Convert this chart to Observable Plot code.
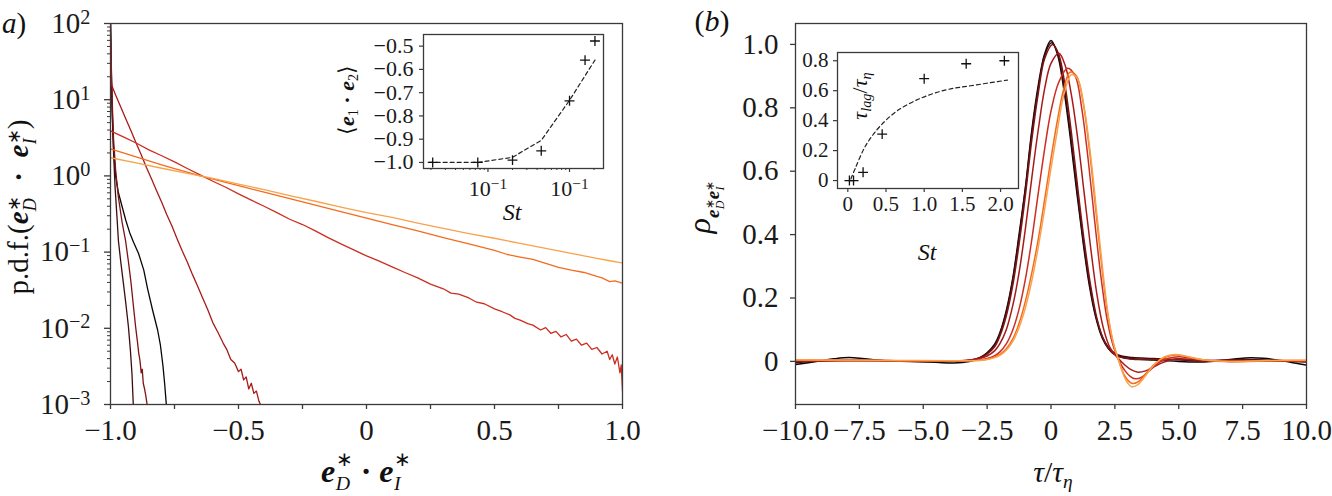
<!DOCTYPE html>
<html><head><meta charset="utf-8">
<script src="https://cdn.jsdelivr.net/npm/d3@7"></script>
<script src="https://cdn.jsdelivr.net/npm/@observablehq/plot@0.6"></script>
<style>
html,body{margin:0;padding:0;background:#fff;}
#wrap{position:relative;width:1332px;height:496px;overflow:hidden;font-family:Liberation Serif,Times New Roman,serif;color:#111;}
#wrap svg{position:absolute;overflow:visible;max-width:none;font-family:Liberation Serif,Times New Roman,serif;}
#wrap svg text{font-family:Liberation Serif,Times New Roman,serif;}
.lbl{position:absolute;white-space:nowrap;line-height:1;}
.ss{display:inline-block;vertical-align:-0.4em;line-height:1.2;font-size:0.62em;text-align:left;margin-left:0.02em;font-weight:normal;}
.ss2{display:inline-block;vertical-align:-0.42em;line-height:0.85;font-size:0.62em;text-align:left;margin-left:0.02em;font-weight:normal;}
.ss>span,.ss2>span{display:block;}
sub{font-size:0.65em;vertical-align:-0.3em;line-height:0;}
</style></head><body><div id="wrap"></div>
<script>
// ---------- DATA ----------
const seriesColors = ["#0b0606", "#3e0c0c", "#7e1414", "#a81a18", "#cc2e20", "#f26c1e", "#f9a24c"];

// Panel (a): p.d.f. of e_D*.e_I*  ([x, pdf] pairs)
const pdfC0 = [[-1,100],[-0.997,20],[-0.993,6],[-0.988,2.2],[-0.98,1.0],[-0.97,0.62],[-0.955,0.4],[-0.94,0.26],[-0.925,0.18],[-0.91,0.135],[-0.89,0.095],[-0.87,0.058],[-0.855,0.033],[-0.835,0.017],[-0.816,0.0095],[-0.805,0.006],[-0.795,0.0032],[-0.788,0.0018],[-0.782,0.001]];
const pdfC1 = [[-1,100],[-0.997,25],[-0.993,7],[-0.988,2.0],[-0.982,0.7],[-0.975,0.3],[-0.969,0.14],[-0.96,0.075],[-0.95,0.04],[-0.94,0.021],[-0.93,0.0105],[-0.922,0.005],[-0.916,0.0025],[-0.911,0.001]];
const pdfC2 = [[-1,100],[-0.997,30],[-0.993,9],[-0.988,3.0],[-0.98,1.2],[-0.97,0.55],[-0.955,0.25],[-0.941,0.14],[-0.93,0.075],[-0.92,0.04],[-0.91,0.019],[-0.902,0.0105],[-0.895,0.0068],[-0.89,0.0048],[-0.885,0.0038],[-0.88,0.0026],[-0.876,0.0029],[-0.872,0.0019],[-0.867,0.0016],[-0.862,0.0013],[-0.857,0.001]];
const pdfC3 = [[-1,60],[-0.997,16],[-0.98,11.5],[-0.96,8.0],[-0.94,5.6],[-0.92,3.9],[-0.9,2.7],[-0.88,1.9],[-0.86,1.3],[-0.84,0.92],[-0.82,0.64],[-0.8,0.45],[-0.78,0.31],[-0.76,0.22],[-0.74,0.15],[-0.72,0.104],[-0.7,0.074],[-0.68,0.051],[-0.66,0.036],[-0.64,0.025],[-0.62,0.0175],[-0.6,0.0118],[-0.58,0.0088],[-0.56,0.0064],[-0.545,0.0052],[-0.53,0.0039],[-0.515,0.0035],[-0.5,0.0027],[-0.49,0.0029],[-0.48,0.0021],[-0.47,0.0023],[-0.46,0.0016],[-0.45,0.0019],[-0.44,0.0014],[-0.43,0.0015],[-0.42,0.0011],[-0.414,0.001]];
const pdfC4 = [[-1,3.9],[-0.95,3.25],[-0.9,2.7],[-0.85,2.2],[-0.8,1.84],[-0.75,1.53],[-0.7,1.25],[-0.65,1.03],[-0.6,0.85],[-0.55,0.71],[-0.5,0.58],[-0.45,0.48],[-0.4,0.4],[-0.35,0.33],[-0.3,0.27],[-0.25,0.23],[-0.2,0.19],[-0.15,0.155],[-0.1,0.128],[-0.05,0.107],[0,0.089],[0.05,0.076],[0.1,0.064],[0.15,0.054],[0.2,0.046],[0.25,0.038],[0.3,0.033],[0.33,0.029],[0.36,0.028],[0.4,0.025],[0.43,0.022],[0.46,0.021],[0.5,0.018],[0.53,0.0165],[0.56,0.015],[0.58,0.0135],[0.6,0.0128],[0.63,0.0115],[0.65,0.011],[0.68,0.0095],[0.7,0.0102],[0.72,0.0086],[0.74,0.0091],[0.76,0.0077],[0.78,0.0083],[0.8,0.0068],[0.82,0.0072],[0.84,0.006],[0.86,0.0064],[0.88,0.0053],[0.9,0.0056],[0.92,0.0046],[0.94,0.005],[0.95,0.0039],[0.96,0.0045],[0.97,0.0034],[0.98,0.0042],[0.99,0.0026],[0.995,0.0033],[1.0,0.0015]];
const pdfC5 = [[-1,2.26],[-0.95,2.0],[-0.9,1.78],[-0.85,1.58],[-0.8,1.4],[-0.75,1.25],[-0.7,1.12],[-0.65,1.0],[-0.6,0.906],[-0.5,0.745],[-0.4,0.612],[-0.3,0.503],[-0.2,0.414],[-0.1,0.34],[0,0.28],[0.1,0.23],[0.2,0.19],[0.3,0.155],[0.4,0.128],[0.5,0.105],[0.55,0.093],[0.6,0.086],[0.65,0.08],[0.7,0.071],[0.75,0.063],[0.8,0.058],[0.85,0.054],[0.9,0.048],[0.92,0.046],[0.95,0.041],[0.97,0.042],[0.99,0.04],[1.0,0.039]];
const pdfC6 = [[-1,1.73],[-0.9,1.48],[-0.8,1.26],[-0.7,1.08],[-0.65,1.0],[-0.6,0.93],[-0.5,0.78],[-0.4,0.66],[-0.3,0.55],[-0.2,0.465],[-0.1,0.39],[0,0.33],[0.1,0.285],[0.2,0.24],[0.3,0.205],[0.4,0.175],[0.5,0.152],[0.6,0.13],[0.7,0.112],[0.8,0.096],[0.9,0.083],[0.95,0.077],[1.0,0.072]];

// Panel (b): correlation rho vs tau/tau_eta  ([tau, rho] pairs)
const rhoC0 = [[-10,-0.010],[-9.5,-0.004],[-9,0.002],[-8.5,0.008],[-7.9,0.012],[-7.3,0.008],[-6.5,0.002],[-5.5,0.0],[-4.5,-0.003],[-3.8,-0.005],[-3.2,0.0],[-2.8,0.01],[-2.5,0.027],[-2.2,0.055],[-2,0.09],[-1.75,0.16],[-1.5,0.26],[-1.25,0.4],[-1,0.55],[-0.75,0.73],[-0.5,0.87],[-0.25,0.97],[0,1.012],[0.25,0.97],[0.5,0.86],[0.75,0.71],[1,0.54],[1.25,0.38],[1.5,0.24],[1.75,0.14],[2,0.075],[2.25,0.04],[2.5,0.022],[2.8,0.013],[3.2,0.008],[4,0.004],[5,0.0],[6,-0.002],[6.8,0.004],[7.6,0.011],[8.3,0.01],[9,0.003],[9.6,-0.006],[10,-0.012]];
const rhoC1 = [[-10,-0.004],[-8,0.004],[-6,0.001],[-4,0.0],[-3.2,0.004],[-2.8,0.012],[-2.5,0.026],[-2.2,0.052],[-2,0.088],[-1.75,0.155],[-1.5,0.255],[-1.25,0.39],[-1,0.545],[-0.75,0.72],[-0.5,0.86],[-0.25,0.965],[0.02,1.005],[0.25,0.975],[0.5,0.875],[0.75,0.725],[1,0.555],[1.25,0.39],[1.5,0.25],[1.75,0.145],[2,0.08],[2.25,0.044],[2.5,0.025],[2.8,0.016],[3.2,0.012],[4,0.009],[5,0.005],[6,0.002],[7.5,0.006],[9,0.002],[10,-0.002]];
const rhoC2 = [[-10,0.0],[-8,0.003],[-6,0.002],[-4,0.001],[-3.2,0.004],[-2.8,0.011],[-2.5,0.023],[-2.2,0.047],[-2,0.08],[-1.75,0.143],[-1.5,0.238],[-1.25,0.37],[-1,0.525],[-0.75,0.7],[-0.5,0.845],[-0.25,0.955],[0.06,1.0],[0.3,0.97],[0.55,0.87],[0.8,0.72],[1.05,0.545],[1.3,0.38],[1.55,0.24],[1.8,0.135],[2.05,0.07],[2.3,0.036],[2.55,0.018],[2.9,0.01],[3.3,0.006],[4,0.006],[5,0.006],[6,0.003],[7.5,0.004],[9,0.001],[10,0.0]];
const rhoC3 = [[-10,0.002],[-8,0.003],[-6,0.002],[-4,0.002],[-3.2,0.004],[-2.8,0.009],[-2.5,0.017],[-2.2,0.034],[-2,0.056],[-1.75,0.1],[-1.5,0.175],[-1.25,0.28],[-1,0.42],[-0.75,0.58],[-0.5,0.73],[-0.25,0.86],[0,0.94],[0.31,0.972],[0.55,0.935],[0.8,0.84],[1.05,0.7],[1.3,0.53],[1.55,0.36],[1.8,0.21],[2.05,0.105],[2.3,0.045],[2.6,0.012],[2.9,-0.012],[3.15,-0.027],[3.4,-0.034],[3.7,-0.03],[4.0,-0.018],[4.4,-0.003],[4.9,0.008],[5.4,0.007],[6,0.002],[7,0.0],[8.5,0.003],[10,0.0]];
const rhoC4 = [[-10,0.003],[-8,0.002],[-6,0.002],[-4,0.002],[-3.2,0.003],[-2.8,0.005],[-2.5,0.009],[-2.2,0.018],[-2,0.03],[-1.75,0.055],[-1.5,0.098],[-1.25,0.165],[-1,0.26],[-0.75,0.385],[-0.5,0.53],[-0.25,0.67],[0,0.79],[0.3,0.88],[0.65,0.925],[0.95,0.9],[1.2,0.8],[1.45,0.64],[1.7,0.45],[1.95,0.27],[2.2,0.13],[2.45,0.045],[2.65,0.005],[2.9,-0.03],[3.1,-0.047],[3.3,-0.055],[3.55,-0.05],[3.85,-0.03],[4.2,-0.005],[4.6,0.01],[5.0,0.015],[5.5,0.01],[6.2,0.003],[7.5,0.0],[9,0.002],[10,0.001]];
const rhoC5 = [[-10,0.004],[-8,0.003],[-6,0.002],[-4,0.002],[-3.2,0.002],[-2.8,0.004],[-2.5,0.007],[-2.2,0.014],[-2,0.022],[-1.75,0.04],[-1.5,0.07],[-1.25,0.12],[-1,0.19],[-0.75,0.28],[-0.5,0.385],[-0.25,0.51],[0,0.64],[0.25,0.76],[0.5,0.86],[0.74,0.912],[1.0,0.9],[1.25,0.82],[1.5,0.67],[1.75,0.48],[2.0,0.29],[2.2,0.16],[2.4,0.07],[2.6,0.015],[2.85,-0.04],[3.05,-0.063],[3.2,-0.07],[3.45,-0.062],[3.75,-0.035],[4.1,-0.005],[4.5,0.014],[4.9,0.02],[5.4,0.013],[6,0.004],[7,0.0],[8.5,0.002],[10,0.003]];
const rhoC6 = [[-10,0.005],[-8,0.004],[-6,0.003],[-4,0.002],[-3.2,0.002],[-2.8,0.003],[-2.5,0.006],[-2.2,0.012],[-2,0.019],[-1.75,0.035],[-1.5,0.062],[-1.25,0.107],[-1,0.17],[-0.75,0.255],[-0.5,0.36],[-0.25,0.48],[0,0.61],[0.25,0.73],[0.5,0.84],[0.8,0.905],[1.05,0.89],[1.3,0.8],[1.55,0.65],[1.8,0.46],[2.05,0.27],[2.25,0.14],[2.45,0.055],[2.62,0.01],[2.85,-0.045],[3.0,-0.068],[3.15,-0.08],[3.4,-0.073],[3.7,-0.045],[4.05,-0.01],[4.45,0.015],[4.85,0.022],[5.3,0.016],[5.9,0.006],[7,0.0],[8.5,0.003],[10,0.004]];

// Insets
const stValues   = [0.021, 0.075, 0.2, 0.45, 1.0, 1.55, 2.05];
const e1e2Values = [-1.0, -1.0, -0.99, -0.95, -0.735, -0.56, -0.478];
const e1e2FitSt  = [0.019, 0.075, 0.2, 0.45, 1.0, 2.05];
const e1e2Fit    = [-1.0, -1.0, -0.978, -0.905, -0.733, -0.56];
const tauLagValues = [0.0, 0.0, 0.055, 0.31, 0.68, 0.78, 0.80];
const tauFitSt   = [0.04, 0.1, 0.21, 0.3, 0.43, 0.65, 0.98, 1.3, 1.61, 2.09];
const tauFit     = [0.011, 0.085, 0.211, 0.285, 0.367, 0.467, 0.555, 0.607, 0.633, 0.671];

// Ticks
const pdfXTicks = [-1, -0.5, 0, 0.5, 1];
const pdfXMinor = [-0.75, -0.25, 0.25, 0.75];
const pdfYTicks = [1e-3, 1e-2, 1e-1, 1, 10, 100];
const pdfYExp   = ["−3", "−2", "−1", "0", "1", "2"];
const rhoXTicks = [-10, -7.5, -5, -2.5, 0, 2.5, 5, 7.5, 10];
const rhoYTicks = [0, 0.2, 0.4, 0.6, 0.8, 1.0];
const insAYTicks = [-1.0, -0.9, -0.8, -0.7, -0.6, -0.5];
const insAXTicks = [0.1, 1];
const insAXLabels = ["10^−1", "10^−1"];
const insBXTicks = [0, 0.5, 1.0, 1.5, 2.0];
const insBYTicks = [0, 0.2, 0.4, 0.6, 0.8];

// ---------- BUILD ----------
const FONT = "Liberation Serif, Times New Roman, serif";
const AX = "#3a3a3a", TXT = "#1a1a1a";
const fmt = d => d === 0 ? "0" : (d < 0 ? "\u2212" : "") + Math.abs(d).toFixed(1);
const minorLog = (lo, hi) => { const out = []; for (let e = lo; e < hi; e++) for (let m = 2; m <= 9; m++) out.push(m * Math.pow(10, e)); return out; };
const plusSym = {draw(ctx, size) { const r = Math.sqrt(size) / 2; ctx.moveTo(-r, 0); ctx.lineTo(r, 0); ctx.moveTo(0, -r); ctx.lineTo(0, r); }};
const wrap = document.getElementById("wrap");

function place(svg, left, top) { svg.style.left = left + "px"; svg.style.top = top + "px"; supify(svg); wrap.appendChild(svg); }
function supify(svg) {
  svg.querySelectorAll("text").forEach(t => {
    const m = t.textContent.match(/^10\^(.+)$/);
    if (!m) return;
    t.textContent = "";
    const ns = "http://www.w3.org/2000/svg";
    const a = document.createElementNS(ns, "tspan"); a.textContent = "10"; t.appendChild(a);
    const b = document.createElementNS(ns, "tspan"); b.textContent = m[1];
    b.setAttribute("dy", "-0.45em"); b.setAttribute("font-size", "70%"); t.appendChild(b);
  });
}

const pdfSeries = [pdfC0, pdfC1, pdfC2, pdfC3, pdfC4, pdfC5, pdfC6];
const rhoSeries = [rhoC0, rhoC1, rhoC2, rhoC3, rhoC4, rhoC5, rhoC6];

const pA = Plot.plot({
  width: 660, height: 496, marginLeft: 110, marginRight: 38, marginTop: 23, marginBottom: 92,
  style: {fontFamily: FONT, fontSize: "29px", background: "transparent", overflow: "visible"},
  x: {domain: [-1, 1]},
  y: {type: "log", domain: [1e-3, 1e2]},
  marks: [
    ...pdfSeries.map((s, i) => Plot.line(s, {x: d => d[0], y: d => d[1], stroke: seriesColors[i], strokeWidth: 1.3, clip: true})),
    Plot.frame({stroke: AX, strokeWidth: 1.3}),
    Plot.axisX({ticks: pdfXTicks, tickFormat: fmt, tickSize: 5, tickPadding: 10, label: null, stroke: AX, fill: TXT, strokeWidth: 1.3}),
    Plot.axisX({ticks: pdfXMinor, tickFormat: () => "", tickSize: 5, label: null, stroke: AX, strokeWidth: 1.3}),
    Plot.axisY({ticks: pdfYTicks, tickFormat: (d) => "10^" + pdfYExp[pdfYTicks.indexOf(d)], tickSize: 6, tickPadding: 14, label: null, stroke: AX, fill: TXT, strokeWidth: 1.3}),
    Plot.axisY({ticks: minorLog(-3, 2), tickFormat: () => "", tickSize: 3, label: null, stroke: AX, strokeWidth: 1})
  ]
});
place(pA, 0, 0);

const pB = Plot.plot({
  width: 672, height: 496, marginLeft: 135, marginRight: 26, marginTop: 23, marginBottom: 92,
  style: {fontFamily: FONT, fontSize: "29px", background: "transparent", overflow: "visible"},
  x: {domain: [-10, 10]},
  y: {domain: [-0.136, 1.066]},
  marks: [
    ...rhoSeries.map((s, i) => Plot.line(s, {x: d => d[0], y: d => d[1], stroke: seriesColors[i], strokeWidth: 1.5, curve: "catmull-rom", clip: true})),
    Plot.frame({stroke: AX, strokeWidth: 1.3}),
    Plot.axisX({ticks: rhoXTicks, tickFormat: fmt, tickSize: 5, tickPadding: 10, label: null, stroke: AX, fill: TXT, strokeWidth: 1.3}),
    Plot.axisY({ticks: rhoYTicks, tickFormat: fmt, tickSize: 5, tickPadding: 12, label: null, stroke: AX, fill: TXT, strokeWidth: 1.3})
  ]
});
place(pB, 660, 0);

const insA = Plot.plot({
  width: 290, height: 240, marginLeft: 93, marginRight: 17, marginTop: 34, marginBottom: 72,
  style: {fontFamily: FONT, fontSize: "22px", background: "transparent", overflow: "visible"},
  x: {type: "log", domain: [0.0162, 2.61]},
  y: {domain: [-1.026, -0.45]},
  marks: [
    Plot.frame({fill: "white", stroke: AX, strokeWidth: 1.3}),
    Plot.line(e1e2FitSt.map((s, i) => [s, e1e2Fit[i]]), {x: d => d[0], y: d => d[1], stroke: "#222", strokeWidth: 1.2, strokeDasharray: "4,3"}),
    Plot.dot(stValues.map((s, i) => [s, e1e2Values[i]]), {x: d => d[0], y: d => d[1], symbol: plusSym, r: 5.6, fill: "none", stroke: "#111", strokeWidth: 1.3}),
    Plot.axisX({ticks: insAXTicks, tickFormat: (d) => insAXLabels[insAXTicks.indexOf(d)], tickSize: 4, tickPadding: 8, label: null, stroke: AX, fill: TXT, strokeWidth: 1.2}),
    Plot.axisX({ticks: minorLog(-2, 0).filter(v => v > 0.0162).concat([2]), tickFormat: () => "", tickSize: 2, label: null, stroke: AX, strokeWidth: 1}),
    Plot.axisY({ticks: insAYTicks, tickFormat: fmt, tickSize: 4, tickPadding: 6, label: null, stroke: AX, fill: TXT, strokeWidth: 1.2})
  ]
});
place(insA, 330, 0);

const insB = Plot.plot({
  width: 250, height: 240, marginLeft: 57, marginRight: 12, marginTop: 52, marginBottom: 52,
  style: {fontFamily: FONT, fontSize: "21px", background: "transparent", overflow: "visible"},
  x: {domain: [-0.135, 2.235]},
  y: {domain: [-0.053, 0.855]},
  marks: [
    Plot.frame({fill: "white", stroke: AX, strokeWidth: 1.3}),
    Plot.line(tauFitSt.map((s, i) => [s, tauFit[i]]), {x: d => d[0], y: d => d[1], stroke: "#222", strokeWidth: 1.2, strokeDasharray: "4,3", curve: "catmull-rom"}),
    Plot.dot(stValues.map((s, i) => [s, tauLagValues[i]]), {x: d => d[0], y: d => d[1], symbol: plusSym, r: 5.6, fill: "none", stroke: "#111", strokeWidth: 1.3}),
    Plot.axisX({ticks: insBXTicks, tickFormat: fmt, tickSize: 4, tickPadding: 4, label: null, stroke: AX, fill: TXT, strokeWidth: 1.2}),
    Plot.axisY({ticks: insBYTicks, tickFormat: fmt, tickSize: 4, tickPadding: 5, label: null, stroke: AX, fill: TXT, strokeWidth: 1.2})
  ]
});
place(insB, 780, 0);

// ---------- TEXT LABELS ----------
const ss = (a, b) => `<span class="ss"><span>${a}</span><span><i>${b}</i></span></span>`;
const ss2 = (a, b) => `<span class="ss2"><span>${a}</span><span><i>${b}</i></span></span>`;
function label(html, cx, cy, size, rot, extra) {
  const d = document.createElement("div");
  d.className = "lbl";
  d.innerHTML = html;
  d.style.left = cx + "px"; d.style.top = cy + "px"; d.style.fontSize = size + "px";
  d.style.transform = "translate(-50%,-50%)" + (rot ? " rotate(-90deg)" : "");
  if (extra) Object.assign(d.style, extra);
  wrap.appendChild(d);
}
const eb = `<b><i>e</i></b>`;
label(`<i>a</i>)`, 14, 23, 29);
label(`(<i>b</i>)`, 712, 21, 30);
label(`p.d.f.(${eb}${ss2("∗","D")}<b>&ensp;·&ensp;</b>${eb}${ss2("∗","I")})`, 21, 207, 29, true);
label(`${eb}${ss("∗","D")}<b>&nbsp;·&nbsp;</b>${eb}${ss("∗","I")}`, 366, 472, 32);
label(`<i>ρ</i><span style="font-size:0.6em;vertical-align:-0.45em">${eb}${ss2("∗","D")}${eb}${ss2("∗","I")}</span>`, 704, 207, 32, true);
label(`<i>τ</i>/<i>τ</i><sub><i>η</i></sub>`, 1053, 472, 30);
label(`⟨${eb}<sub>1</sub><b> · </b>${eb}<sub>2</sub>⟩`, 347, 100, 22, true);
label(`<i>St</i>`, 512, 212, 24);
label(`<i>τ</i><sub><i>lag</i></sub>/<i>τ</i><sub><i>η</i></sub>`, 860, 96, 22, true);
label(`<i>St</i>`, 927, 252, 24);
</script>
</body></html>
